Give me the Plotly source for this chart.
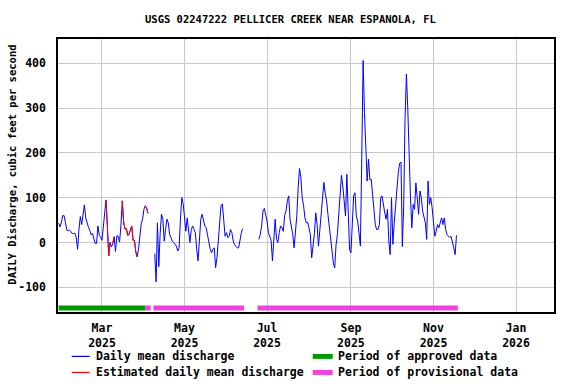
import datetime as dt
import plotly.graph_objects as go

START = dt.date(2025, 1, 28)

# Daily mean discharge (cfs), three continuous runs: (start day index, values)
seg1_start = 0
seg1_vals = [43, 35, 45, 60, 60, 43, 28, 26, 28, 25,
             20, 20, 21, 10, -15, 30, 58, 40, 60, 84,
             55, 42, 34, 27, 17, 20, 8, -2, -2, 37,
             16, 12, 5, 35, 80, 95, 39, -30, 0, -10,
             -2, 13, -20, 15, 14, 1, 37, 93, 46, 30,
             31, 16, 18, 28, 37, 5, 5, -21, -32, -15,
             16, 42, 52, 74, 82, 77, 65]
seg2_start = 71
seg2_vals = [-25, -88, 44, -54, 20, 63, 52, 3, 29, 52,
             44, 18, 11, 3, 0, -5, -8, -19, -12, 52,
             100, 87, 59, 25, 55, 18, 0, 29, 37, 29,
             22, -15, -41, 3, 52, 63, 52, 37, 33, 14,
             0, -15, -23, -15, -12, -56, -34, 11, 52, 83,
             86, 52, 14, 22, 11, 14, 29, 22, 3, -5,
             -8, -12, -12, 11, 22, 31]
seg3_start = 148
seg3_vals = [7, 18, 37, 70, 76, 63, 48, 22, 14, 5,
             -41, 20, 52, 7, 0, 22, 37, 33, 25, 60,
             70, 93, 104, 52, 33, 18, -12, 25, 60, 122,
             165, 145, 100, 82, 55, 44, 45, 33, 18, -34,
             -5, 20, 66, 40, -8, 25, 66, 104, 134, 110,
             93, 63, 37, 10, -20, -45, -57, -5, 18, 59,
             104, 150, 126, 89, 59, 152, 74, -16, -23, 55,
             104, 111, 59, 48, 22, -8, 190, 406, 290, 186,
             137, 186, 140, 141, 100, 74, 40, 29, 29, 40,
             100, 104, 80, 66, 52, 74, 3, -27, 100, -4,
             44, 89, 120, 156, 177, 179, -9, 81, 279, 376,
             300, 190, 100, 33, 85, 74, 133, 100, 63, 115,
             100, 70, 55, 44, 7, 137, 85, 100, 78, 40,
             14, 25, 40, 33, 48, 55, 40, 55, 29, 18,
             14, 11, 14, 3, -12, -27, 16]

# Days (index from START) flagged as estimated
estimated_days = [35, 36, 37, 38, 40, 41] + list(range(47, 59)) + [64, 65, 66]

# Approval periods
approved_periods = [("2025-01-28", "2025-04-02")]
provisional_periods = [("2025-04-02", "2025-04-06"), ("2025-04-08", "2025-06-14"),
                       ("2025-06-24", "2025-11-19")]
period_level = -146

tick_vals = ["2025-03-01", "2025-05-01", "2025-07-01", "2025-09-01", "2025-11-01", "2026-01-01"]
tick_text = ["Mar<br>2025", "May<br>2025", "Jul<br>2025", "Sep<br>2025", "Nov<br>2025", "Jan<br>2026"]
y_ticks = [-100, 0, 100, 200, 300, 400]

# Build series with gaps
x_all, y_all = [], []
value_by_day = {}
for s, vals in [(seg1_start, seg1_vals), (seg2_start, seg2_vals), (seg3_start, seg3_vals)]:
    for k, v in enumerate(vals):
        d = s + k
        value_by_day[d] = v
        x_all.append(START + dt.timedelta(days=d))
        y_all.append(v)
    x_all.append(START + dt.timedelta(days=s + len(vals)))
    y_all.append(None)

x_est, y_est = [], []
prev = None
for d in estimated_days:
    if prev is not None and d != prev + 1:
        x_est.append(START + dt.timedelta(days=prev + 1))
        y_est.append(None)
    x_est.append(START + dt.timedelta(days=d))
    y_est.append(value_by_day[d])
    prev = d

FONT = "DejaVu Sans Mono"
BLUE = "#0000ff"
RED = "#ff0000"
GREEN = "#009900"
PINK = "#ee44dd"

fig = go.Figure()
for a, b in approved_periods:
    fig.add_trace(go.Scatter(x=[a, b], y=[period_level, period_level], mode="lines",
                             line=dict(color=GREEN, width=5), hoverinfo="skip"))
for a, b in provisional_periods:
    fig.add_trace(go.Scatter(x=[a, b], y=[period_level, period_level], mode="lines",
                             line=dict(color=PINK, width=5), hoverinfo="skip"))
fig.add_trace(go.Scatter(x=x_all, y=y_all, mode="lines", line=dict(color=BLUE, width=1),
                         connectgaps=False))
fig.add_trace(go.Scatter(x=x_est, y=y_est, mode="lines", line=dict(color=RED, width=1),
                         connectgaps=False))

L, R, T, B = 58.3, 554.3, 39.3, 311.7
W, H = R - L, B - T


def px(x):
    return (x - L) / W


def py(y):
    return (B - y) / H


shapes = []
annotations = []
legend_items = [
    (72, 90, 356, BLUE, 1.2, "Daily mean discharge", 94),
    (72, 90, 372, RED, 1.2, "Estimated daily mean discharge", 94),
    (313, 333, 356, GREEN, 5, "Period of approved data", 336),
    (313, 333, 372, PINK, 5, "Period of provisional data", 336),
]
for x0, x1, yy, col, w, txt, tx in legend_items:
    shapes.append(dict(type="line", xref="paper", yref="paper", x0=px(x0), x1=px(x1),
                       y0=py(yy), y1=py(yy), line=dict(color=col, width=w)))
    annotations.append(dict(xref="paper", yref="paper", x=px(tx), y=py(yy), text=txt,
                            showarrow=False, xanchor="left", yanchor="middle",
                            font=dict(family=FONT, size=11.5, color="black", weight="bold")))

annotations.append(dict(xref="paper", yref="paper", x=px(12), y=py(165),
                        text="DAILY Discharge, cubic feet per second", textangle=-90,
                        showarrow=False, xanchor="center", yanchor="middle",
                        font=dict(family=FONT, size=10.5, color="black", weight="bold")))
annotations.append(dict(xref="paper", yref="paper", x=px(291), y=py(19),
                        text="USGS 02247222 PELLICER CREEK NEAR ESPANOLA, FL",
                        showarrow=False, xanchor="center", yanchor="middle",
                        font=dict(family=FONT, size=10.5, color="black", weight="bold")))

fig.update_layout(
    width=576, height=384,
    margin=dict(l=L, r=576 - R, t=T, b=384 - B),
    paper_bgcolor="white", plot_bgcolor="white",
    showlegend=False,
    shapes=shapes, annotations=annotations,
    font=dict(family=FONT, size=11, color="black", weight="bold"),
    xaxis=dict(range=["2025-01-27 12:00", "2026-01-29 02:00"], tickvals=tick_vals,
               ticktext=tick_text, showgrid=True, gridcolor="#c8c8c8", gridwidth=1,
               showline=True, linecolor="black", linewidth=1.5, mirror=True,
               ticks="", zeroline=False, ticklabelstandoff=4,
               tickfont=dict(family=FONT, size=11.5, weight="bold")),
    yaxis=dict(range=[-155, 454], tickvals=y_ticks, ticktext=["-100", "0", "100", "200", "300", "400"],
               showgrid=True, gridcolor="#c8c8c8", gridwidth=1,
               showline=True, linecolor="black", linewidth=1.5, mirror=True,
               ticks="", zeroline=False, ticklabelstandoff=8,
               tickfont=dict(family=FONT, size=11.5, weight="bold")),
)

fig.write_html("out.html", config={"displayModeBar": False},
               post_script="document.body.style.margin='0px';")
